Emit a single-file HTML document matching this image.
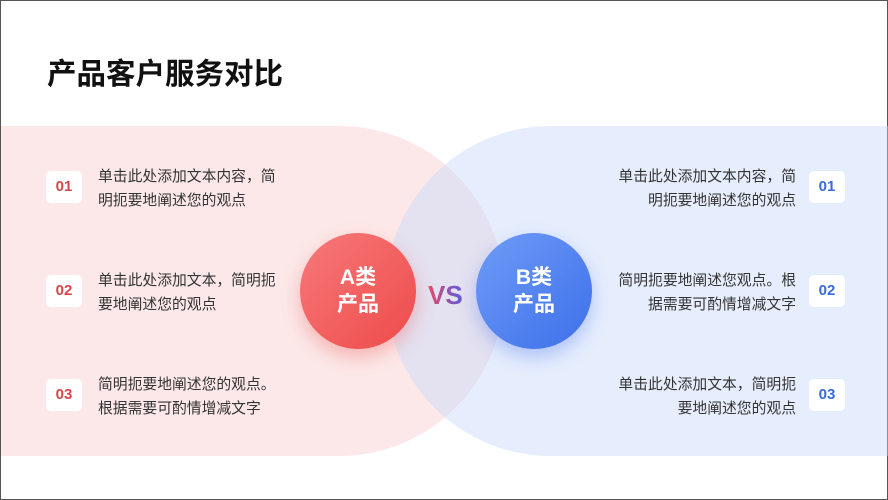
<!DOCTYPE html>
<html><head><meta charset="utf-8"><style>
*{margin:0;padding:0;box-sizing:border-box}
body{width:888px;height:500px;background:#fff;position:relative;overflow:hidden;font-family:"Liberation Sans","Noto Sans CJK SC",sans-serif;border:1px solid #555}
.t{position:absolute;left:46px;top:56px;font-size:29.5px;font-weight:bold;color:#111;line-height:36px}
.pink{position:absolute;left:0;top:125px;width:503px;height:330px;background:rgba(250,210,210,.5);border-radius:0 165px 165px 0}
.blue{position:absolute;left:385px;top:125px;width:503px;height:330px;background:rgba(200,218,250,.45);border-radius:165px 0 0 165px}
.c{position:absolute;width:116px;height:116px;border-radius:50%;color:#fff;font-weight:bold;font-size:21px;line-height:27px;text-align:center;padding-top:31px}
.ca{left:299px;top:232px;background:linear-gradient(135deg,#f77a7a,#ee4a4a);box-shadow:0 8px 18px rgba(238,80,80,.35)}
.cb{left:475px;top:232px;background:linear-gradient(135deg,#6f9cf7,#3d6fea);box-shadow:0 8px 18px rgba(70,110,235,.35)}
.vs{position:absolute;left:427px;top:279px;font-size:26px;font-weight:bold;background:linear-gradient(90deg,#e04a6a,#5a5ae0);-webkit-background-clip:text;color:transparent}
.b{position:absolute;width:36px;height:32px;background:#fff;border-radius:5px;font-size:15px;font-weight:bold;text-align:center;line-height:32px}
.r{color:#d9444a}.bl{color:#3b6ad8}
.x{position:absolute;font-size:14.8px;line-height:24px;color:#333;width:200px;white-space:nowrap}
.xr{text-align:right}
</style></head><body>
<div class="t">产品客户服务对比</div>
<div class="pink"></div><div class="blue"></div>
<div class="c ca">A类<br>产品</div>
<div class="c cb">B类<br>产品</div>
<div class="vs">VS</div>
<div class="b r" style="left:45px;top:170px">01</div>
<div class="b r" style="left:45px;top:274px">02</div>
<div class="b r" style="left:45px;top:378px">03</div>
<div class="x" style="left:97px;top:164px">单击此处添加文本内容，简<br>明扼要地阐述您的观点</div>
<div class="x" style="left:97px;top:268px">单击此处添加文本，简明扼<br>要地阐述您的观点</div>
<div class="x" style="left:97px;top:372px">简明扼要地阐述您的观点。<br>根据需要可酌情增减文字</div>
<div class="b bl" style="left:808px;top:170px">01</div>
<div class="b bl" style="left:808px;top:274px">02</div>
<div class="b bl" style="left:808px;top:378px">03</div>
<div class="x xr" style="left:595px;top:164px">单击此处添加文本内容，简<br>明扼要地阐述您的观点</div>
<div class="x xr" style="left:595px;top:268px">简明扼要地阐述您观点。根<br>据需要可酌情增减文字</div>
<div class="x xr" style="left:595px;top:372px">单击此处添加文本，简明扼<br>要地阐述您的观点</div>
</body></html>
